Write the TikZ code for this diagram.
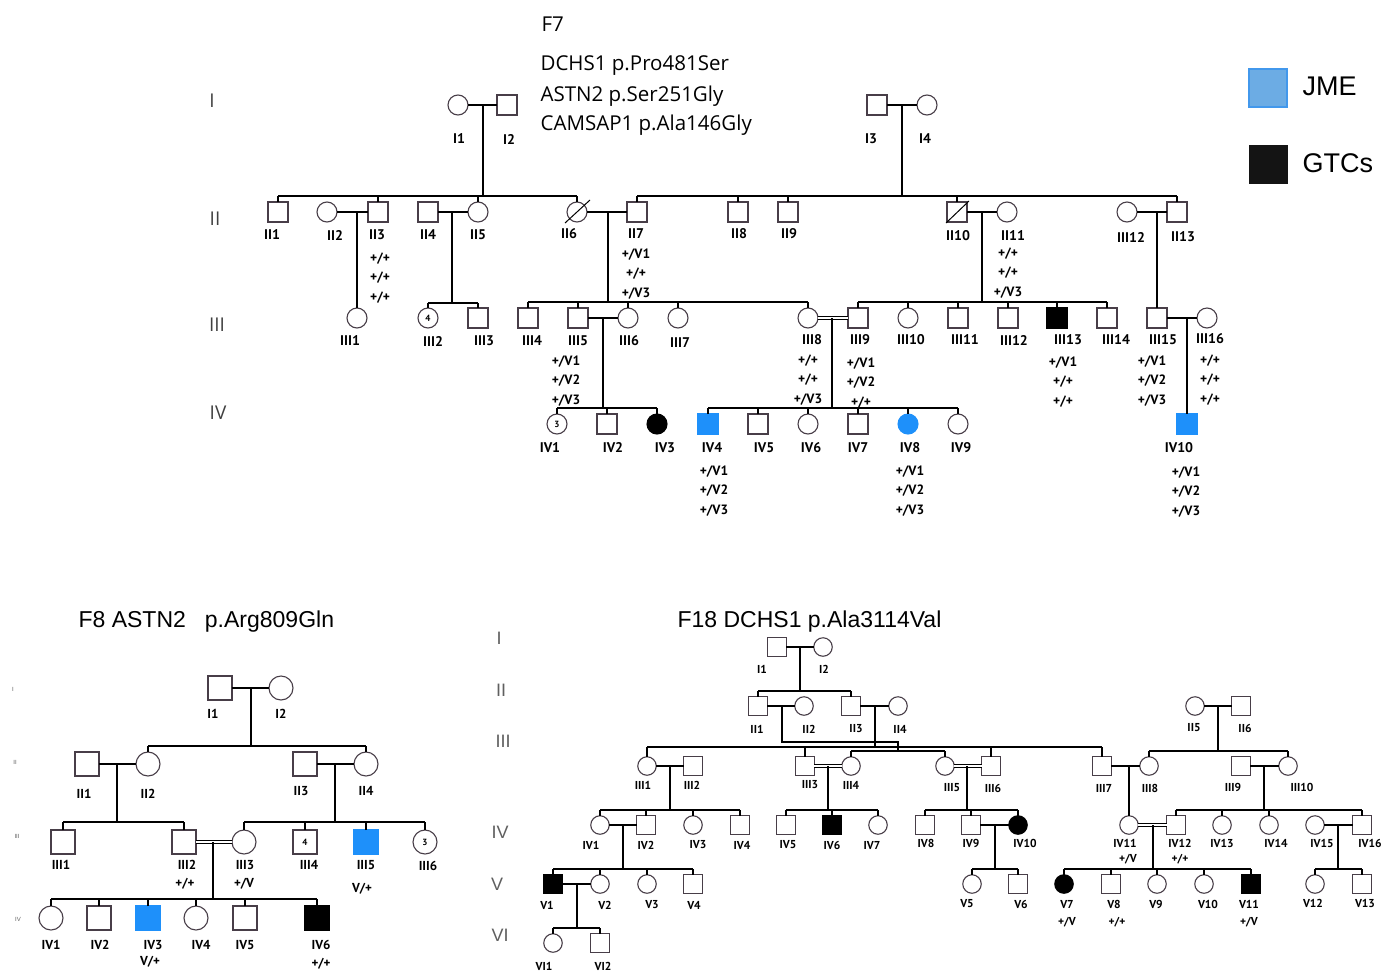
\documentclass[tikz,border=0pt]{standalone}
\usepackage{fontspec}
\setmainfont{Open Sans}
\newfontfamily\lblfnt{PT Sans}
\newfontfamily\ttlfnt{Liberation Sans}
\usetikzlibrary{positioning}

\definecolor{jmeblue}{RGB}{30,144,250}
\definecolor{legfill}{RGB}{108,172,228}
\definecolor{legedge}{RGB}{66,152,236}
\definecolor{symedge}{RGB}{72,62,72}
\definecolor{genc}{RGB}{95,95,95}
\def\psz{20}

\tikzset{
  ped/.style={draw=symedge, line width=1.1pt, inner sep=0pt, outer sep=0pt, fill=white},
  sqr/.style={ped, rectangle, minimum size=\psz},
  crc/.style={ped, circle, minimum size=\psz},
  sqrb/.style={sqr, fill=black, draw=black},
  crcb/.style={crc, fill=black, draw=black},
  sqrj/.style={sqr, fill=jmeblue, draw=jmeblue},
  crcj/.style={crc, fill=jmeblue, draw=jmeblue},
  dbl/.style={double, double distance=2.6pt, line width=0.9pt},
  lbl7/.style={font=\lblfnt\bfseries\fontsize{14}{14}\selectfont, inner sep=0pt},
  lbl8/.style={font=\lblfnt\bfseries\fontsize{13}{13}\selectfont, inner sep=0pt},
  lbl18/.style={font=\lblfnt\bfseries\fontsize{11.5}{11.5}\selectfont, inner sep=0pt},
  gt7/.style={font=\lblfnt\bfseries\fontsize{13.5}{19.5}\selectfont, inner sep=0pt, align=center},
  gt8/.style={font=\lblfnt\bfseries\fontsize{13}{13}\selectfont, inner sep=0pt},
  gt18/.style={font=\lblfnt\bfseries\fontsize{11.5}{11.5}\selectfont, inner sep=0pt},
  num/.style={font=\lblfnt\bfseries\fontsize{9}{9}\selectfont, inner sep=0pt},
  gen/.style={font=\fontsize{19}{19}\selectfont, text=black!75, inner sep=0pt},
  gen18/.style={font=\ttlfnt\fontsize{18}{18}\selectfont, text=genc, inner sep=0pt},
  gen8/.style={font=\ttlfnt\fontsize{6}{6}\selectfont, text=genc, inner sep=0pt},
  hdr/.style={font=\fontsize{20.5}{21}\selectfont, inner sep=0pt, anchor=west},
  ttl/.style={font=\ttlfnt\fontsize{23}{23}\selectfont, inner sep=0pt, anchor=west},
  keytxt/.style={font=\ttlfnt\fontsize{27}{27}\selectfont, inner sep=0pt, anchor=west},
}

\begin{document}
\begin{tikzpicture}[x=1pt, y=-1pt, line width=1.2pt]
\useasboundingbox (0,0) rectangle (1386,972);

% ================= F7 =================
\node[hdr] (F7name) at (541,24) {F7};
\node[hdr] (F7var1) at (540,66) {DCHS1 p.Pro481Ser};
\node[hdr] (F7var2) at (540,96) {ASTN2 p.Ser251Gly};
\node[hdr] (F7var3) at (540,125) {CAMSAP1 p.Ala146Gly};
\foreach \g/\x/\y in {I/212/101, II/215/219, III/217/325, IV/218/413}
  \node[gen] (F7gen\g) at (\x,\y) {\g};

% legend
\node[draw=legedge, fill=legfill, line width=1.5pt, minimum size=38, inner sep=0pt] (keyJME) at (1268,88) {};
\node[keytxt] (keyJMEt) at (1302,86) {JME};
\node[fill=black!92, minimum size=39, inner sep=0pt] (keyGTC) at (1268,164) {};
\node[keytxt] (keyGTCt) at (1302,163) {GTCs};

% generation I
\foreach \n/\s/\x/\lx in {I1/crc/458/459, I2/sqr/507/509, I3/sqr/877/871, I4/crc/927/925} {
  \node[\s] (F7\n) at (\x,105) {};
  \node[lbl7] (F7\n-l) at (\lx,139) {\n};
}
\draw (F7I1) -- (F7I2);
\draw (F7I3) -- (F7I4);
\coordinate (F7m12) at (483,105);
\coordinate (F7m34) at (902,105);
\draw (F7m12) -- (F7m12 |- 0,196);
\draw (F7m34) -- (F7m34 |- 0,196);

% generation II
\foreach \n/\s/\x/\lx/\ly in {II1/sqr/278/272/235, II2/crc/327/335/235, II3/sqr/378/377/235,
    II4/sqr/428/428/235, II5/crc/478/478/235, II6/crc/577/569/234, II7/sqr/637/636/234,
    II8/sqr/738/739/234, II9/sqr/788/789/234, II10/sqr/957/958/236, II11/crc/1007/1013/236,
    II13/sqr/1177/1183/237} {
  \node[\s] (F7\n) at (\x,212) {};
  \node[lbl7] (F7\n-l) at (\lx,\ly) {\n};
}
\node[crc] (F7II12) at (1127,212) {};
\node[lbl7] (F7II12-l) at (1131,237) {III12};
\draw[line width=1pt] ([shift={(-12,11)}]F7II6.center) -- ([shift={(13,-12)}]F7II6.center);
\draw[line width=1pt] ([shift={(-11,11)}]F7II10.center) -- ([shift={(12,-11)}]F7II10.center);
\draw (F7II1 |- 0,196) -- (F7II6 |- 0,196);
\draw (F7II7 |- 0,196) -- (F7II13 |- 0,196);
\foreach \n in {II1,II3,II5,II6,II7,II8,II9,II10,II13}
  \draw (F7\n.north) -- (F7\n |- 0,196);
\draw (F7II2) -- (F7II3);
\draw (F7II4) -- (F7II5);
\draw (F7II6) -- (F7II7);
\draw (F7II10) -- (F7II11);
\draw (F7II12) -- (F7II13);
\coordinate (F7m23) at (357,212);
\coordinate (F7m45) at (452,212);
\coordinate (F7m67) at (608,212);
\coordinate (F7m1011) at (982,212);
\coordinate (F7m1213) at (1157,212);
\node[gt7] (F7II3-g) at (380,278) {+/+\\+/+\\+/+};
\node[gt7] (F7II7-g) at (636,274) {+/V1\\+/+\\+/V3};
\node[gt7] (F7II11-g) at (1008,273) {+/+\\+/+\\+/V3};

% generation III
\foreach \n/\s/\x/\lx/\ly in {III1/crc/357/350/341, III2/crc/428/433/341, III3/sqr/478/484/341,
    III4/sqr/528/532/341, III5/sqr/578/578/341, III6/crc/628/629/341, III7/crc/678/680/343,
    III8/crc/808/812/340, III9/sqr/858/860/340, III10/crc/908/911/340, III11/sqr/958/965/340,
    III12/sqr/1008/1014/340, III13/sqrb/1057/1068/340, III14/sqr/1107/1116/340,
    III15/sqr/1157/1163/340, III16/crc/1207/1210/339} {
  \node[\s] (F7\n) at (\x,318) {};
  \node[lbl7] (F7\n-l) at (\lx,\ly) {\n};
}
\node[num] (F7III2-n) at (F7III2) {4};
\draw (F7m23) -- (F7III1.north);
\draw (F7m45) -- (F7m45 |- 0,303);
\draw (F7III2 |- 0,303) -- (F7III3 |- 0,303);
\draw (F7m67) -- (F7m67 |- 0,302);
\draw (F7III4 |- 0,302) -- (F7III8 |- 0,302);
\draw (F7m1011) -- (F7m1011 |- 0,302);
\draw (F7III9 |- 0,302) -- (F7III14 |- 0,302);
\foreach \n in {III2,III3}
  \draw (F7\n.north) -- (F7\n |- 0,303);
\foreach \n in {III4,III5,III6,III7,III8,III9,III10,III11,III12,III13,III14}
  \draw (F7\n.north) -- (F7\n |- 0,302);
\draw (F7m1213) -- (F7III15.north);
\draw (F7III5) -- (F7III6);
\draw[dbl] (F7III8) -- (F7III9);
\draw (F7III15) -- (F7III16);
\coordinate (F7m56) at (603,318);
\coordinate (F7m89) at (832,318);
\coordinate (F7m1516) at (1187,318);
\node[gt7] (F7III5-g) at (566,381) {+/V1\\+/V2\\+/V3};
\node[gt7] (F7III8-g) at (808,380) {+/+\\+/+\\+/V3};
\node[gt7] (F7III9-g) at (861,383) {+/V1\\+/V2\\+/+};
\node[gt7] (F7III13-g) at (1063,382) {+/V1\\+/+\\+/+};
\node[gt7] (F7III15-g) at (1152,381) {+/V1\\+/V2\\+/V3};
\node[gt7] (F7III16-g) at (1210,380) {+/+\\+/+\\+/+};

% generation IV
\foreach \n/\s/\x/\lx in {IV1/crc/557/550, IV2/sqr/607/613, IV3/crcb/657/665, IV4/sqrj/708/712,
    IV5/sqr/758/764, IV6/crc/808/811, IV7/sqr/858/858, IV8/crcj/908/910, IV9/crc/958/961,
    IV10/sqrj/1187/1179} {
  \node[\s] (F7\n) at (\x,424) {};
  \node[lbl7] (F7\n-l) at (\lx,448) {\n};
}
\node[num] (F7IV1-n) at (F7IV1) {3};
\draw (F7m56) -- (F7m56 |- 0,408);
\draw (F7IV1 |- 0,408) -- (F7IV3 |- 0,408);
\draw (F7m89) -- (F7m89 |- 0,408);
\draw (F7IV4 |- 0,408) -- (F7IV9 |- 0,408);
\foreach \n in {IV1,IV2,IV3,IV4,IV5,IV6,IV7,IV8,IV9}
  \draw (F7\n.north) -- (F7\n |- 0,408);
\draw (F7m1516) -- (F7IV10.north);
\node[gt7] (F7IV4-g) at (714,491) {+/V1\\+/V2\\+/V3};
\node[gt7] (F7IV8-g) at (910,491) {+/V1\\+/V2\\+/V3};
\node[gt7] (F7IV10-g) at (1186,492) {+/V1\\+/V2\\+/V3};

% ================= F8 =================
\def\psz{24}
\node[ttl] (F8name) at (78,622) {F8 ASTN2\hspace{19pt}p.Arg809Gln};
\foreach \g/\x/\y in {I/13/689, II/15/762, III/17/836, IV/18/919}
  \node[gen8] (F8gen\g) at (\x,\y) {\g};
\foreach \n/\s/\x/\y/\lx/\ly in {I1/sqr/220/688/213/714, I2/crc/281/688/281/714,
    II1/sqr/87/764/84/794, II2/crc/148/764/148/794, II3/sqr/305/764/301/791, II4/crc/366/764/366/791,
    III1/sqr/63/842/61/865, III2/sqr/184/842/187/865, III3/crc/244/842/245/865,
    III4/sqr/305/842/309/865, III5/sqrj/366/842/366/865, III6/crc/425/842/428/866,
    IV1/crc/51/918/51/945, IV2/sqr/99/918/100/945, IV3/sqrj/148/918/153/945,
    IV4/crc/196/918/201/945, IV5/sqr/245/918/245/945, IV6/sqrb/317/918/321/945} {
  \node[\s] (F8\n) at (\x,\y) {};
  \node[lbl8] (F8\n-l) at (\lx,\ly) {\n};
}
\node[num] (F8III4-n) at (F8III4) {4};
\node[num] (F8III6-n) at (F8III6) {3};
\draw (F8I1) -- (F8I2);
\draw (F8II1) -- (F8II2);
\draw (F8II3) -- (F8II4);
\draw[dbl] (F8III2) -- (F8III3);
\coordinate (F8m12) at (251,688);
\coordinate (F8mII12) at (117,764);
\coordinate (F8mII34) at (335,764);
\coordinate (F8mIII23) at (213,842);
\draw (F8m12) -- (F8m12 |- 0,746);
\draw (F8II2 |- 0,746) -- (F8II4 |- 0,746);
\foreach \n in {II2,II4}
  \draw (F8\n.north) -- (F8\n |- 0,746);
\draw (F8mII12) -- (F8mII12 |- 0,822);
\draw (F8III1 |- 0,822) -- (F8III2 |- 0,822);
\draw (F8mII34) -- (F8mII34 |- 0,822);
\draw (F8III3 |- 0,822) -- (F8III6 |- 0,822);
\foreach \n in {III1,III2,III3,III4,III5,III6}
  \draw (F8\n.north) -- (F8\n |- 0,822);
\draw (F8mIII23) -- (F8mIII23 |- 0,899);
\draw (F8IV1 |- 0,899) -- (F8IV6 |- 0,899);
\foreach \n in {IV1,IV2,IV3,IV4,IV5,IV6}
  \draw (F8\n.north) -- (F8\n |- 0,899);
\node[gt8] (F8III2-g) at (185,884) {+/+};
\node[gt8] (F8III3-g) at (244,884) {+/V};
\node[gt8] (F8III5-g) at (362,889) {V/+};
\node[gt8] (F8IV3-g) at (150,962) {V/+};
\node[gt8] (F8IV6-g) at (321,964) {+/+};

% ================= F18 =================
\def\psz{18.5}
\node[ttl] (F18name) at (677,622) {F18 DCHS1 p.Ala3114Val};
\foreach \g/\x/\y in {I/499/638, II/501/690, III/503/741, IV/500/832, V/497/884, VI/500/935}
  \node[gen18] (F18gen\g) at (\x,\y) {\g};
\foreach \n/\s/\x/\y/\lx/\ly in {I1/sqr/777/647/762/669, I2/crc/823/647/824/669,
    II1/sqr/758/706/757/729, II2/crc/804/706/809/729, II3/sqr/851/706/856/729,
    II4/crc/898/706/900/729, II5/crc/1195/706/1194/728, II6/sqr/1241/706/1245/728,
    III1/crc/647/766/643/785, III2/sqr/693/766/692/785, III3/sqr/805/766/810/785,
    III4/crc/851/766/851/785, III5/crc/945/766/952/788, III6/sqr/991/766/993/788,
    III7/sqr/1102/766/1104/788, III8/crc/1149/766/1150/788, III9/sqr/1241/766/1233/787,
    III10/crc/1288/766/1302/787,
    IV1/crc/600/825/591/845, IV2/sqr/646/825/646/845, IV3/crc/693/825/698/845,
    IV4/sqr/740/825/742/845, IV5/sqr/786/825/788/845, IV6/sqrb/832/825/832/845,
    IV7/crc/878/825/872/845, IV8/sqr/925/825/926/843, IV9/sqr/971/825/971/843,
    IV10/crcb/1018/825/1025/843, IV11/crc/1129/825/1125/843, IV12/sqr/1176/825/1180/843,
    IV13/crc/1222/825/1222/843, IV14/crc/1269/825/1276/843, IV15/crc/1315/825/1322/843,
    IV16/sqr/1362/825/1370/843,
    V1/sqrb/553/884/547/905, V2/crc/600/884/605/905, V3/crc/647/884/652/905,
    V4/sqr/693/884/694/905, V5/crc/972/884/967/904, V6/sqr/1018/884/1021/904,
    V7/crcb/1064/884/1067/904, V8/sqr/1111/884/1114/904, V9/crc/1157/884/1156/904,
    V10/crc/1204/884/1208/904, V11/sqrb/1251/884/1249/904, V12/crc/1315/884/1313/903,
    V13/sqr/1362/884/1365/903,
    VI1/crc/553/943/544/966, VI2/sqr/600/943/603/966} {
  \node[\s] (F18\n) at (\x,\y) {};
  \node[lbl18] (F18\n-l) at (\lx,\ly) {\n};
}
% marriages
\draw (F18I1) -- (F18I2);
\draw (F18II1) -- (F18II2);
\draw (F18II3) -- (F18II4);
\draw (F18II5) -- (F18II6);
\draw (F18III1) -- (F18III2);
\draw[dbl] (F18III3) -- (F18III4);
\draw[dbl] (F18III5) -- (F18III6);
\draw (F18III7) -- (F18III8);
\draw (F18III9) -- (F18III10);
\draw (F18IV1) -- (F18IV2);
\draw (F18IV9) -- (F18IV10);
\draw[dbl] (F18IV11) -- (F18IV12);
\draw (F18IV15) -- (F18IV16);
\draw (F18V1) -- (F18V2);
\coordinate (F18m12) at (800,647);
\coordinate (F18mII12) at (782,706);
\coordinate (F18mII34) at (875,706);
\coordinate (F18mII56) at (1218,706);
\coordinate (F18mIII12) at (670,766);
\coordinate (F18mIII34) at (828,766);
\coordinate (F18mIII56) at (967,766);
\coordinate (F18mIII78) at (1129,766);
\coordinate (F18mIII910) at (1264,766);
\coordinate (F18mIV12) at (623,825);
\coordinate (F18mIV910) at (995,825);
\coordinate (F18mIV1112) at (1153,825);
\coordinate (F18mIV1516) at (1338,825);
\coordinate (F18mV12) at (577,884);
% sibships
\draw (F18m12) -- (F18m12 |- 0,691);
\draw (F18II1 |- 0,691) -- (F18II3 |- 0,691);
\foreach \n in {II1,II3}
  \draw (F18\n.north) -- (F18\n |- 0,691);
\draw (F18mII12) -- (F18mII12 |- 0,742) -- (F18II4 |- 0,742) -- (F18II4 |- 0,751);
\draw (F18mII34) -- (F18mII34 |- 0,747);
\draw (F18III1 |- 0,747) -- (F18III7 |- 0,747);
\foreach \n in {III1,III3,III6,III7}
  \draw (F18\n.north) -- (F18\n |- 0,747);
\draw (F18III4 |- 0,751) -- (F18III5 |- 0,751);
\draw (F18mII56) -- (F18mII56 |- 0,751);
\draw (F18III8 |- 0,751) -- (F18III10 |- 0,751);
\foreach \n in {III4,III5,III8,III10}
  \draw (F18\n.north) -- (F18\n |- 0,751);
\draw (F18mIII12) -- (F18mIII12 |- 0,810);
\draw (F18IV1 |- 0,810) -- (F18IV4 |- 0,810);
\draw (F18mIII34) -- (F18mIII34 |- 0,810);
\draw (F18IV5 |- 0,810) -- (F18IV7 |- 0,810);
\draw (F18mIII56) -- (F18mIII56 |- 0,810);
\draw (F18IV8 |- 0,810) -- (F18IV10 |- 0,810);
\draw (F18mIII78) -- (F18IV11.north);
\draw (F18mIII910) -- (F18mIII910 |- 0,810);
\draw (F18IV12 |- 0,810) -- (F18IV16 |- 0,810);
\foreach \n in {IV1,IV2,IV3,IV4,IV5,IV6,IV7,IV8,IV9,IV10,IV12,IV13,IV14,IV16}
  \draw (F18\n.north) -- (F18\n |- 0,810);
\draw (F18mIV12) -- (F18mIV12 |- 0,869);
\draw (F18V1 |- 0,869) -- (F18V4 |- 0,869);
\draw (F18mIV910) -- (F18mIV910 |- 0,869);
\draw (F18V5 |- 0,869) -- (F18V6 |- 0,869);
\draw (F18mIV1112) -- (F18mIV1112 |- 0,869);
\draw (F18V7 |- 0,869) -- (F18V11 |- 0,869);
\draw (F18mIV1516) -- (F18mIV1516 |- 0,869);
\draw (F18V12 |- 0,869) -- (F18V13 |- 0,869);
\foreach \n in {V1,V2,V3,V4,V5,V6,V7,V8,V9,V10,V11,V12,V13}
  \draw (F18\n.north) -- (F18\n |- 0,869);
\draw (F18mV12) -- (F18mV12 |- 0,928);
\draw (F18VI1 |- 0,928) -- (F18VI2 |- 0,928);
\foreach \n in {VI1,VI2}
  \draw (F18\n.north) -- (F18\n |- 0,928);
\node[gt18] (F18IV11-g) at (1128,859) {+/V};
\node[gt18] (F18IV12-g) at (1180,859) {+/+};
\node[gt18] (F18V7-g) at (1067,922) {+/V};
\node[gt18] (F18V8-g) at (1117,922) {+/+};
\node[gt18] (F18V11-g) at (1249,922) {+/V};
\end{tikzpicture}
\end{document}
